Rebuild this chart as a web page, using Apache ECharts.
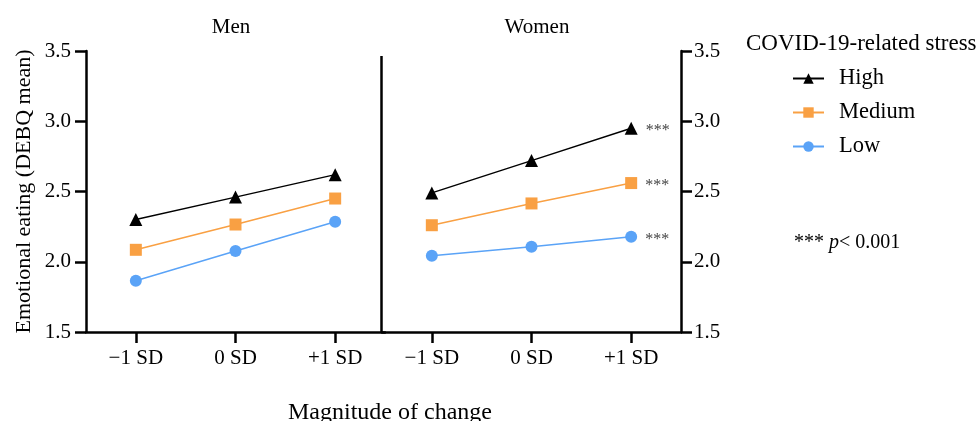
<!DOCTYPE html>
<html><head><meta charset="utf-8">
<script src="https://cdn.jsdelivr.net/npm/echarts@6/dist/echarts.min.js"></script>
<style>html,body{margin:0;padding:0;background:#fff}#c{width:979px;height:421px}</style>
</head><body><div id="c"></div>
<script>
const categories = ['\u22121 SD', '0 SD', '+1 SD'];
const panels = ['Men', 'Women'];
const seriesNames = ['High', 'Medium', 'Low'];
const menHigh = [2.30, 2.46, 2.62];
const menMedium = [2.085, 2.265, 2.45];
const menLow = [1.865, 2.077, 2.285];
const womenHigh = [2.49, 2.72, 2.95];
const womenMedium = [2.26, 2.415, 2.56];
const womenLow = [2.043, 2.107, 2.178];
const yTicks = [1.5, 2.0, 2.5, 3.0, 3.5];
const sigLabel = '***';

const FONT = '"Liberation Serif", "DejaVu Serif", serif';
const colors = {High: '#000000', Medium: '#F9A043', Low: '#5AA3F7'};
const symbols = {High: 'triangle', Medium: 'rect', Low: 'circle'};
const sizes = {High: 13, Medium: 12, Low: 12};

const chart = echarts.init(document.getElementById('c'));

function mkSeries(name, data, idx, sig) {
  return {
    name: name, type: 'line', xAxisIndex: idx, yAxisIndex: idx,
    data: data.map((v, i) => {
      if (sig && i === data.length - 1) {
        return {value: v, label: {show: true, formatter: sigLabel, position: 'right', distance: 8,
          color: '#444', fontSize: 16, fontFamily: FONT, offset: [0, 3]}};
      }
      return v;
    }),
    symbol: symbols[name], symbolSize: sizes[name],
    itemStyle: {color: colors[name]},
    lineStyle: {color: colors[name], width: 1.5},
    emphasis: {disabled: true}, animation: false
  };
}

const yAxisBase = {
  type: 'value', min: yTicks[0], max: yTicks[yTicks.length - 1], interval: 0.5,
  axisLine: {show: true, lineStyle: {color: '#000', width: 2.5}},
  axisTick: {show: true, length: 11, lineStyle: {color: '#000', width: 2.5}},
  splitLine: {show: false},
  axisLabel: {color: '#000', fontSize: 21, fontFamily: FONT, margin: 15, formatter: v => v.toFixed(1)}
};
const xAxisBase = {
  type: 'category', data: categories, boundaryGap: true,
  axisLine: {show: true, lineStyle: {color: '#000', width: 2.5}},
  axisTick: {show: true, alignWithLabel: true, length: 11, lineStyle: {color: '#000', width: 2.5}},
  axisLabel: {color: '#000', fontSize: 21, fontFamily: FONT, margin: 16}
};

chart.setOption({
  animation: false,
  grid: [
    {left: 86, top: 51, width: 299, height: 281},
    {left: 382, top: 51, width: 299, height: 281}
  ],
  title: [
    {text: panels[0], left: 226, top: 12, textAlign: 'center', textStyle: {fontSize: 21, fontWeight: 'normal', fontFamily: FONT, color: '#000'}},
    {text: panels[1], left: 532, top: 12, textAlign: 'center', textStyle: {fontSize: 21, fontWeight: 'normal', fontFamily: FONT, color: '#000'}},
    {text: 'COVID-19-related stress', left: 741, top: 27, textStyle: {fontSize: 23, fontWeight: 'normal', fontFamily: FONT, color: '#000'}},
    {text: '{a|***} {b|p}{a|< 0.001}', left: 789, top: 228, textStyle: {fontWeight: 'normal', rich: {
      a: {fontSize: 20, fontFamily: FONT, color: '#000', fontWeight: 'normal'},
      b: {fontSize: 20, fontFamily: FONT, color: '#000', fontStyle: 'italic', fontWeight: 'normal'}}}}
  ],
  legend: {
    data: seriesNames, orient: 'vertical', left: 787, top: 62, itemGap: 11,
    itemWidth: 31, itemHeight: 13,
    textStyle: {fontSize: 22.5, fontFamily: FONT, color: '#000', padding: [0, 0, 0, 10]}
  },
  xAxis: [
    Object.assign({gridIndex: 0}, xAxisBase),
    Object.assign({gridIndex: 1}, xAxisBase)
  ],
  yAxis: [
    Object.assign({gridIndex: 0, position: 'left', name: 'Emotional eating (DEBQ mean)', nameLocation: 'middle', nameGap: 51, nameRotate: 90,
      nameTextStyle: {fontSize: 22, fontFamily: FONT, color: '#000'}}, yAxisBase),
    Object.assign({gridIndex: 1, position: 'right'},
      Object.assign({}, yAxisBase, {axisLabel: Object.assign({}, yAxisBase.axisLabel, {margin: 13})}))
  ],
  graphic: [
    {type: 'line', shape: {x1: 381.5, y1: 56, x2: 381.5, y2: 332}, style: {stroke: '#000', lineWidth: 2.5}, z: 10},
    {type: 'text', left: 288, top: 401, style: {text: 'Magnitude of change', font: '24px ' + FONT, fill: '#000'}}
  ],
  series: [
    mkSeries('High', menHigh, 0, false),
    mkSeries('Medium', menMedium, 0, false),
    mkSeries('Low', menLow, 0, false),
    mkSeries('High', womenHigh, 1, true),
    mkSeries('Medium', womenMedium, 1, true),
    mkSeries('Low', womenLow, 1, true)
  ]
});
</script></body></html>
